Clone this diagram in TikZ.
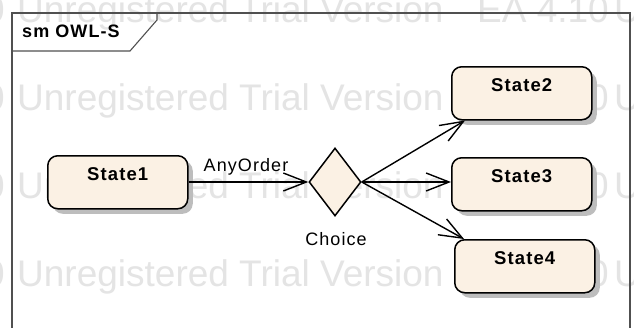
\documentclass[tikz,border=0pt]{standalone}
\usepackage{fontspec}
\setmainfont{Liberation Sans}
\newfontfamily\lblfont[LetterSpace=6]{Liberation Sans}
\usetikzlibrary{shapes.geometric,arrows.meta,calc,shadows}

\definecolor{statefill}{RGB}{251,241,228}
\definecolor{wmgray}{RGB}{228,228,228}
\definecolor{framegray}{RGB}{80,80,80}

\tikzset{
  x=1pt, y=-1pt,
  wmtext/.style={text=wmgray, anchor=base west, inner sep=0pt,
    font=\fontsize{37}{40}\selectfont},
  statebox/.style={draw=black, line width=1.5pt, fill=statefill,
    rounded corners=10pt, anchor=north west,
    minimum width=140pt, inner xsep=0pt, inner ysep=0pt,
    text height=25pt, text depth=28pt,
    font=\lblfont\bfseries\fontsize{18.5}{20}\selectfont,
    general shadow={fill=black!26, shadow xshift=5pt, shadow yshift=-5pt}},
  choicenode/.style={diamond, draw=black, line width=1.5pt, fill=statefill,
    minimum width=52pt, minimum height=68pt, inner sep=0pt},
  lbl/.style={inner sep=0pt, anchor=base, font=\lblfont\fontsize{18}{20}\selectfont},
  trans/.style={draw=black, line width=1.4pt,
    -{Straight Barb[length=23pt,width=18pt]}},
}

\begin{document}
\begin{tikzpicture}
  \clip (0,0) rectangle (634,327);
  \fill[white] (0,0) rectangle (634,327);

  % background watermark rows
  \foreach \yy in {22,110,198,286}{
    \node[wmtext, anchor=base east] at (5,\yy) {EA 4.10};
    \node[wmtext] at (17,\yy) {Unregistered Trial Version};
    \node[wmtext] at (477,\yy) {EA 4.10};
    \node[wmtext] at (614,\yy) {Unregistered};
  }

  % diagram frame with its name tab
  \draw[framegray, line width=1.1pt] (12,345) -- (12,13) -- (630,13) -- (630,345);
  \draw[framegray, line width=1.1pt] (12,51) -- (130,51) -- (157,20) -- (157,13);
  \node[inner sep=0pt, anchor=base west,
        font=\lblfont\bfseries\fontsize{18}{20}\selectfont] (title) at (22,37) {sm OWL-S};

  % states
  \node[statebox] (s1) at (47,155) {State1};
  \node[statebox] (s2) at (451,66) {State2};
  \node[statebox] (s3) at (451,157) {State3};
  \node[statebox] (s4) at (454,239) {State4};

  % choice pseudo-state
  \node[choicenode] (ch) at (335,182) {};
  \node[lbl] (chl) at (336,245) {Choice};

  % transitions
  \draw[trans] (s1.east |- ch.west) -- (ch.west);
  \node[lbl] (aol) at (246,171.5) {AnyOrder};
  \draw[trans] (ch.east) -- ($(s2.south west)+(14,0)$);
  \draw[trans] (ch.east) -- (ch.east -| s3.west);
  \draw[trans] (ch.east) -- ($(s4.north west)+(10,0)$);
\end{tikzpicture}
\end{document}
